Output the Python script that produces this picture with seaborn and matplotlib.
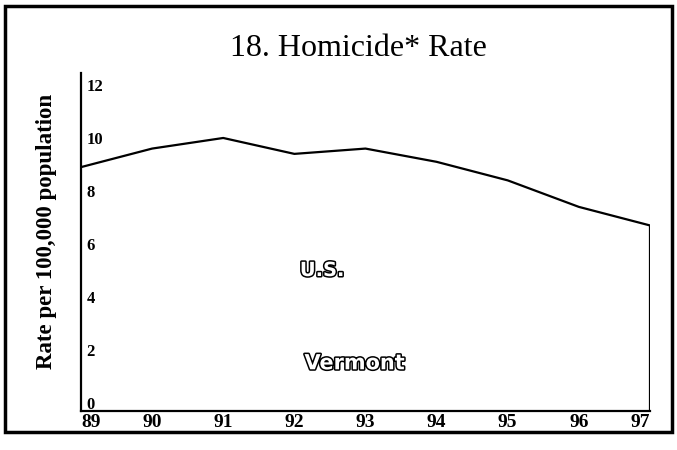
import matplotlib
matplotlib.use("Agg")
import matplotlib.pyplot as plt
import matplotlib.patheffects as pe
from matplotlib.patches import Rectangle
import seaborn as sns
import pandas as pd

years = [89, 90, 91, 92, 93, 94, 95, 96, 97]
us_rate = [8.9, 9.6, 10.0, 9.4, 9.6, 9.1, 8.4, 7.4, 6.7]
y_ticks = [0, 2, 4, 6, 8, 10, 12]
x_labels = ["89", "90", "91", "92", "93", "94", "95", "96", "97"]

sns.set_style("white")
plt.rcParams["font.family"] = ["Liberation Serif", "DejaVu Serif"]
plt.rcParams["text.color"] = "black"
plt.rcParams["axes.labelcolor"] = "black"
plt.rcParams["xtick.color"] = "black"
plt.rcParams["ytick.color"] = "black"

df = pd.DataFrame({"year": years, "rate": us_rate})

fig = plt.figure(figsize=(6.77, 4.5), dpi=100)
ax = fig.add_axes([0.1196, 0.0867, 0.8405, 0.751])

sns.lineplot(data=df, x="year", y="rate", ax=ax, color="black", linewidth=1.6)
ymin, ymax = -0.3, 12.45
ax.vlines(years[-1], ymin, us_rate[-1], color="black", linewidth=1.6)

ax.set_xlim(years[0], years[-1])
ax.set_ylim(ymin, ymax)
ax.set_xticks(years)
ax.set_xticklabels(x_labels, fontsize=14, fontweight="bold")
ax.set_yticks(y_ticks)
ax.set_yticklabels([str(t) for t in y_ticks], fontsize=12, fontweight="bold")
ax.tick_params(axis="y", length=0, pad=-4)
for lab in ax.get_yticklabels():
    lab.set_horizontalalignment("left")
ax.tick_params(axis="x", length=0, pad=2)
xl = ax.get_xticklabels()
xl[0].set_horizontalalignment("left")
xl[-1].set_horizontalalignment("right")

for s in ["top", "right"]:
    ax.spines[s].set_visible(False)
for s in ["left", "bottom"]:
    ax.spines[s].set_color("black")
    ax.spines[s].set_linewidth(1.6)

ax.set_xlabel("")
ax.set_ylabel("Rate per 100,000 population", fontsize=16.5, fontweight="bold",
              labelpad=17, y=0.53)

outline = [pe.withStroke(linewidth=2.2, foreground="black")]
ax.text(92.39, 5.0, "U.S.", fontsize=14, fontweight="bold", color="white",
        ha="center", va="center", path_effects=outline,
        family=["DejaVu Sans"])
ax.text(92.85, 1.5, "Vermont", fontsize=15, fontweight="bold", color="white",
        ha="center", va="center", path_effects=outline,
        family=["DejaVu Sans"])

fig.text(0.529, 0.893, "18. Homicide* Rate", fontsize=23, ha="center", va="center")

fig.patches.append(Rectangle((0.0074, 0.04), 0.985, 0.947, transform=fig.transFigure,
                             fill=False, edgecolor="black", linewidth=2.5))

fig.savefig("out.png", dpi=100)
